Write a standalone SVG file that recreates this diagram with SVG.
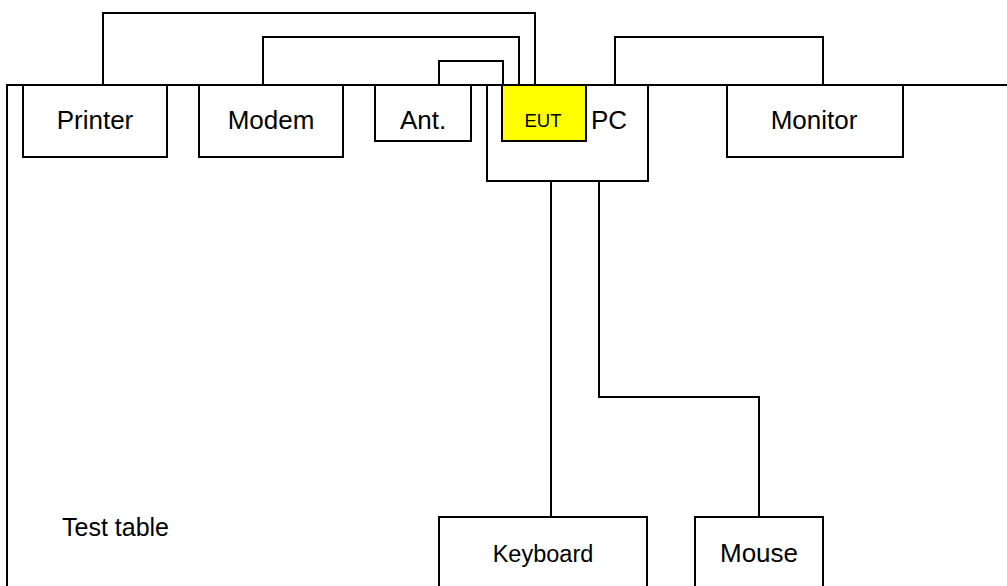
<svg xmlns="http://www.w3.org/2000/svg" width="1007" height="586" viewBox="0 0 1007 586">
<style>
.box{fill:#fff;stroke:#000;stroke-width:2}
.eut{fill:#ffff00;stroke:#000;stroke-width:2}
.wire{fill:none;stroke:#000;stroke-width:2}
text{font-family:"Liberation Sans",Arial,sans-serif;fill:#000;text-anchor:middle}
.l{font-size:26px}
.s{font-size:18.5px}
</style>
<rect width="1007" height="586" fill="#fff"/>
<g id="table">
<polyline class="wire" points="7,587 7,85 1008,85"/>
<text class="l" x="62" y="536" style="text-anchor:start;font-size:25px">Test table</text>
</g>
<g id="connectors">
<polyline class="wire" points="103,85 103,13 535,13 535,85"/>
<polyline class="wire" points="263,85 263,37 519,37 519,85"/>
<polyline class="wire" points="439,85 439,61 503,61 503,85"/>
<polyline class="wire" points="615,85 615,37 823,37 823,85"/>
<polyline class="wire" points="551,181 551,517"/>
<polyline class="wire" points="599,181 599,397 759,397 759,517"/>
</g>
<g id="printer">
<rect class="box" x="23" y="85" width="144" height="72"/>
<text class="l" x="95" y="129">Printer</text>
</g>
<g id="modem">
<rect class="box" x="199" y="85" width="144" height="72"/>
<text class="l" x="271" y="129">Modem</text>
</g>
<g id="ant">
<rect class="box" x="375" y="85" width="96" height="56"/>
<text class="l" x="423" y="129">Ant.</text>
</g>
<g id="pc">
<rect class="box" x="487" y="85" width="161" height="96"/>
<text class="l" x="609" y="128.5">PC</text>
</g>
<g id="eut">
<rect class="eut" x="502" y="85" width="84" height="56"/>
<text class="s" x="543" y="127">EUT</text>
</g>
<g id="monitor">
<rect class="box" x="727" y="85" width="176" height="72"/>
<text class="l" x="814" y="128.5">Monitor</text>
</g>
<g id="keyboard">
<rect class="box" x="439" y="517" width="208" height="80"/>
<text class="l" x="543" y="562" style="font-size:23.5px">Keyboard</text>
</g>
<g id="mouse">
<rect class="box" x="695" y="517" width="128" height="80"/>
<text class="l" x="759" y="562">Mouse</text>
</g>
</svg>
